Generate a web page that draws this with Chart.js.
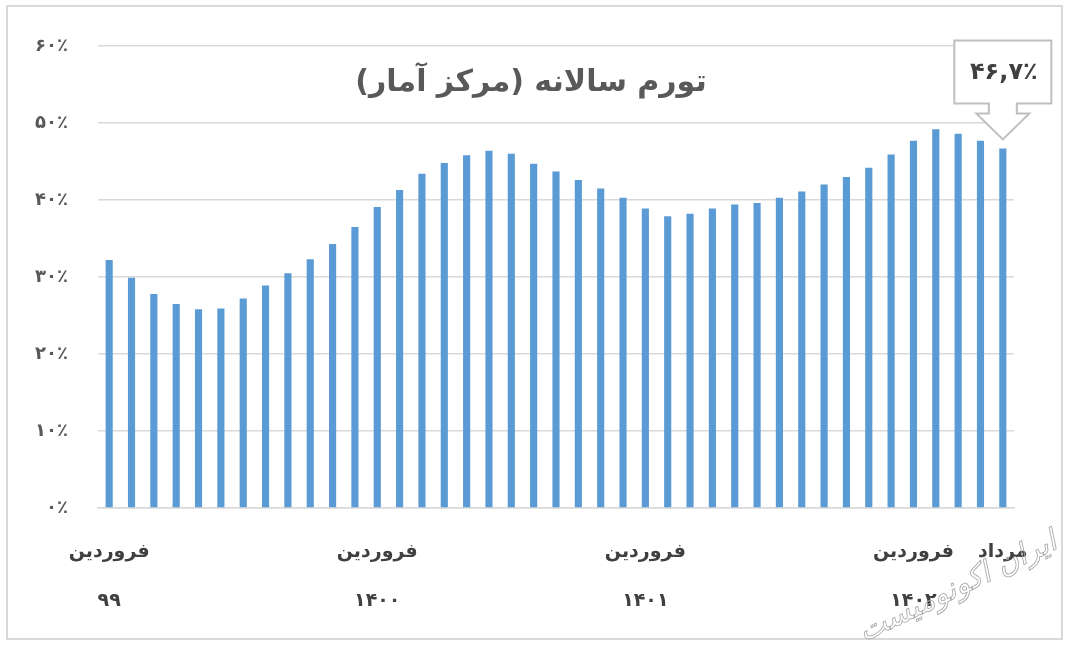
<!DOCTYPE html>
<html>
<head>
<meta charset="utf-8">
<script src="https://cdn.jsdelivr.net/npm/chart.js@4.4.0/dist/chart.umd.min.js"></script>
<style>
  html, body { margin: 0; padding: 0; background: #fff; }
  #wrap { width: 1069px; height: 646px; position: relative; }
</style>
</head>
<body>
<div id="wrap"><canvas id="chart"></canvas></div>
<script>
// داده‌ها: تورم سالانه از فروردین ۹۹ تا مرداد ۱۴۰۲
const months = ['فروردین','اردیبهشت','خرداد','تیر','مرداد','شهریور','مهر','آبان','آذر','دی','بهمن','اسفند'];
const years = ['۹۹','۱۴۰۰','۱۴۰۱','۱۴۰۲'];
const inflation = [
  32.2, 29.9, 27.8, 26.5, 25.8, 25.9, 27.2, 28.9, 30.5, 32.3, 34.3, 36.5,
  39.1, 41.3, 43.4, 44.8, 45.8, 46.4, 46.0, 44.7, 43.7, 42.6, 41.5, 40.3,
  38.9, 37.9, 38.2, 38.9, 39.4, 39.6, 40.3, 41.1, 42.0, 43.0, 44.2, 45.9,
  47.7, 49.2, 48.6, 47.7, 46.7
];
const yTicks = [0, 10, 20, 30, 40, 50, 60];
// برچسب‌های نمایش داده شده روی محور افقی
const shownTicks = {
  0: ['فروردین', '۹۹'],
  12: ['فروردین', '۱۴۰۰'],
  24: ['فروردین', '۱۴۰۱'],
  36: ['فروردین', '۱۴۰۲'],
  40: ['مرداد', '']
};
const chartTitle = 'تورم سالانه (مرکز آمار)';

const categories = [];
years.forEach(y => months.forEach(m => categories.push(m + ' ' + y)));
categories.length = inflation.length;

const toFa = s => String(s).replace(/\d/g, d => '۰۱۲۳۴۵۶۷۸۹'[d]).replace('.', ',');
const FONT = '"DejaVu Sans"';

// قاب، عنوان، برچسب آخر و واترمارک
const extras = {
  id: 'extras',
  afterDraw(chart) {
    const c = chart.ctx;
    c.save();
    // قاب دور نمودار
    c.strokeStyle = '#d9d9d9';
    c.lineWidth = 2;
    c.strokeRect(7, 6, 1055, 633);

    // عنوان
    c.fillStyle = '#595959';
    c.font = 'bold 30px ' + FONT;
    c.textAlign = 'center';
    c.textBaseline = 'middle';
    c.fillText(chartTitle, 531, 83);

    // کادر فلش دار برای آخرین مقدار
    const meta = chart.getDatasetMeta(0);
    const last = meta.data[meta.data.length - 1];
    const x = last.x, tipY = last.y - 9;
    const headY = tipY - 26, boxB = headY - 10, boxT = boxB - 63;
    c.beginPath();
    c.moveTo(x - 48.5, boxT);
    c.lineTo(x + 48.5, boxT);
    c.lineTo(x + 48.5, boxB);
    c.lineTo(x + 14, boxB);
    c.lineTo(x + 14, headY);
    c.lineTo(x + 26.5, headY);
    c.lineTo(x, tipY);
    c.lineTo(x - 26.5, headY);
    c.lineTo(x - 14, headY);
    c.lineTo(x - 14, boxB);
    c.lineTo(x - 48.5, boxB);
    c.closePath();
    c.fillStyle = '#fff';
    c.fill();
    c.strokeStyle = '#bfbfbf';
    c.lineWidth = 2;
    c.stroke();
    c.fillStyle = '#404040';
    c.font = 'bold 24px ' + FONT;
    c.fillText(toFa(inflation[inflation.length - 1]) + '٪', x + 1, (boxT + boxB) / 2 + 1);

    // واترمارک
    c.translate(958, 588);
    c.rotate(-0.45);
    c.font = 'italic 30px ' + FONT;
    c.strokeStyle = '#a6a6a6';
    c.lineWidth = 0.8;
    c.strokeText('ایران اکونومیست', 0, 0);
    c.restore();
  }
};

const ctx = document.getElementById('chart').getContext('2d');
new Chart(ctx, {
  type: 'bar',
  data: {
    labels: categories,
    datasets: [{
      data: inflation,
      backgroundColor: '#5b9bd5',
      barPercentage: 0.32,
      categoryPercentage: 1
    }]
  },
  options: {
    responsive: true,
    maintainAspectRatio: false,
    animation: false,
    layout: { padding: { top: 46, right: 55, left: 0, bottom: 0 } },
    plugins: { legend: { display: false }, tooltip: { enabled: false }, title: { display: false } },
    scales: {
      x: {
        grid: { display: false },
        border: { display: true, color: '#d9d9d9', width: 1.5 },
        afterFit: s => { s.height = 138; },
        ticks: {
          autoSkip: false,
          maxRotation: 0,
          minRotation: 0,
          padding: 11,
          color: '#404040',
          font: { family: 'DejaVu Sans', size: 19, weight: 'bold', lineHeight: 2.6 },
          callback: (v, i) => shownTicks[i] || ''
        }
      },
      y: {
        min: 0,
        max: 60,
        afterBuildTicks: s => { s.ticks = yTicks.map(v => ({ value: v })); },
        afterFit: s => { s.width = 98; },
        border: { display: false },
        grid: { color: '#d9d9d9', lineWidth: 1.5, drawTicks: false },
        ticks: {
          padding: 30,
          color: '#595959',
          font: { family: 'DejaVu Sans', size: 18, weight: 'bold' },
          callback: v => toFa(v) + '٪'
        }
      }
    }
  },
  plugins: [extras]
});
</script>
</body>
</html>
